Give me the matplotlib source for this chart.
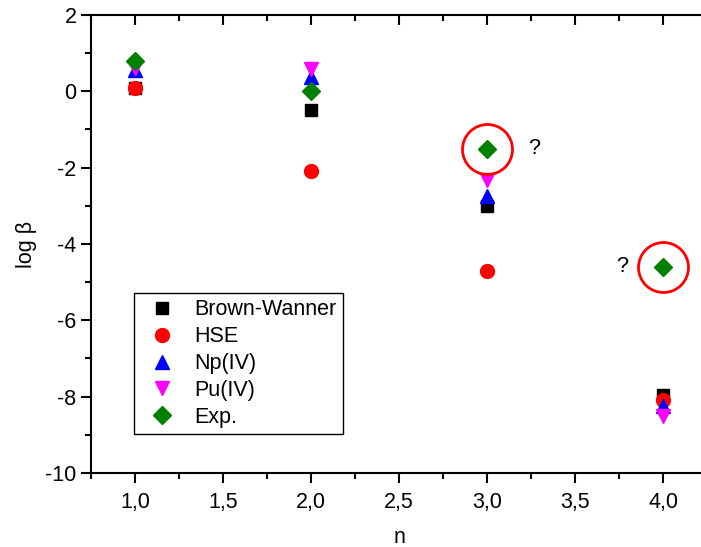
import matplotlib
matplotlib.use('Agg')
import matplotlib.pyplot as plt
from matplotlib.ticker import MultipleLocator, FuncFormatter

plt.rcParams['font.family'] = ['Liberation Sans', 'DejaVu Sans']
plt.rcParams['axes.unicode_minus'] = False

# valeurs
n = [1, 2, 3, 4]
brown_wanner = [0.1, -0.5, -3.0, -7.95]
hse = [0.1, -2.1, -4.7, -8.1]
np_iv = [0.55, 0.38, -2.75, -8.25]
pu_iv = [0.6, 0.58, -2.32, -8.5]
exp = [0.8, 0.0, -1.5, -4.6]

# points douteux entourés
doubt_n = [3, 4]
doubt_y = [-1.5, -4.6]
qmark_n = [3.27, 3.77]

fig = plt.figure(figsize=(7.01, 5.47), dpi=100)
ax = fig.add_axes([0.1298, 0.1353, 0.8788, 0.8373])

fs = 15.5
ms = 10
ax.plot(n, brown_wanner, ls='none', marker='s', color='black', ms=ms * 0.9, label='Brown-Wanner')
ax.plot(n, hse, ls='none', marker='o', color='red', ms=ms, label='HSE')
ax.plot(n, np_iv, ls='none', marker='^', color='blue', ms=ms, label='Np(IV)')
ax.plot(n, pu_iv, ls='none', marker='v', color='magenta', ms=ms, label='Pu(IV)')
ax.plot(n, exp, ls='none', marker='D', color='green', ms=ms * 0.9, label='Exp.')

ax.plot(doubt_n, doubt_y, ls='none', marker='o', ms=36, mfc='none', mec='red', mew=2)
for x, y in zip(qmark_n, doubt_y):
    ax.text(x, y, '?', fontsize=fs, ha='center', va='center')

ax.set_xlim(0.75, 4.25)
ax.set_ylim(-10, 2)
ax.xaxis.set_major_locator(MultipleLocator(0.5))
ax.xaxis.set_minor_locator(MultipleLocator(0.25))
ax.yaxis.set_major_locator(MultipleLocator(2))
ax.yaxis.set_minor_locator(MultipleLocator(1))
ax.xaxis.set_major_formatter(FuncFormatter(lambda v, p: f'{v:.1f}'.replace('.', ',')))
ax.yaxis.set_major_formatter(FuncFormatter(lambda v, p: f'{v:.0f}'))

for s in ax.spines.values():
    s.set_linewidth(1.5)
ax.tick_params(which='both', width=1.5, labelsize=fs, top=True, right=True, direction='out')
ax.tick_params(which='major', length=7)
ax.tick_params(which='minor', length=4.5)
ax.tick_params(axis='x', which='major', pad=7)
# ticks du haut et de droite vers l'intérieur
for t in ax.xaxis.get_major_ticks() + ax.xaxis.get_minor_ticks():
    t.tick2line.set_marker(3)
for t in ax.yaxis.get_major_ticks() + ax.yaxis.get_minor_ticks():
    t.tick2line.set_marker(1)

ax.set_xlabel('n', fontsize=fs, labelpad=10)
ax.set_ylabel('log β', fontsize=fs, labelpad=6)

leg = ax.legend(loc='upper left', bbox_to_anchor=(0.07, 0.393), borderaxespad=0,
                fontsize=fs, fancybox=False, edgecolor='black', framealpha=1,
                handletextpad=0.5, labelspacing=0.27, borderpad=0.3, handlelength=2.0)
leg.get_frame().set_linewidth(1)

fig.savefig('out.png', dpi=100)
